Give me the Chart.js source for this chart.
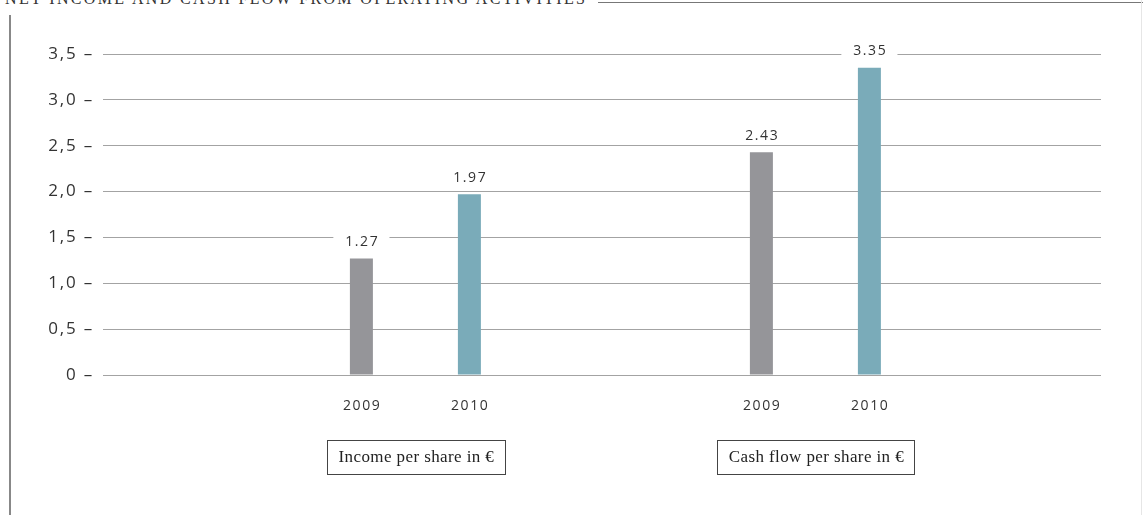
<!DOCTYPE html>
<html>
<head>
<meta charset="utf-8">
<script src="https://cdn.jsdelivr.net/npm/chart.js@4/dist/chart.umd.min.js"></script>
<style>
  html, body { margin: 0; padding: 0; background: #fff; }
  #wrap { position: relative; width: 1143px; height: 515px; overflow: hidden; }
  #title {
    position: absolute; left: 5px; top: -9px;
    font-family: "Liberation Serif", serif; font-size: 16px; line-height: 16px;
    letter-spacing: 2.35px; color: #333; white-space: nowrap;
  }
  #topLine { position: absolute; left: 598px; top: 2px; width: 545px; border-top: 1px solid #777; }
  #leftLine { position: absolute; left: 9px; top: 15px; height: 500px; border-left: 2px solid #888; }
  #rightLine { position: absolute; left: 1141px; top: 0; height: 515px; border-left: 1px solid #e6e6e6; }
  #chartBox { position: absolute; left: 0; top: 0; width: 1143px; height: 515px; }
</style>
</head>
<body>
<div id="wrap">
  <div id="title">NET INCOME AND CASH FLOW FROM OPERATING ACTIVITIES</div>
  <div id="topLine"></div>
  <div id="leftLine"></div>
  <div id="rightLine"></div>
  <div id="chartBox"><canvas id="epsChart"></canvas></div>
</div>
<script>
// Income and cash flow per share, 2009 vs 2010

const groupLabels = ['Income per share in €', 'Cash flow per share in €'];
const yearLabels = ['2009', '2010'];
const values2009 = [1.27, 2.43];
const values2010 = [1.97, 3.35];
const yTickLabels = ['0', '0,5', '1,0', '1,5', '2,0', '2,5', '3,0', '3,5'];

const barColors = ['#959599', '#7aabb9'];

// Draws value labels, year labels and the boxed group names
const annotatePlugin = {
    id: 'annotate',
    afterDatasetsDraw(chart) {
        const ctx = chart.ctx;
        ctx.save();

        chart.data.datasets.forEach((ds, di) => {
            const meta = chart.getDatasetMeta(di);
            meta.data.forEach((bar, i) => {
                // value above the bar, on a white patch over the grid
                ctx.font = '14px "Open Sans"';
                ctx.letterSpacing = '1.6px';
                const txt = ds.data[i].y.toFixed(2);
                const w = ctx.measureText(txt).width;
                const cy = bar.y - 16.5;
                ctx.fillStyle = '#fff';
                ctx.fillRect(bar.x - w / 2 - 11, cy - 9, w + 22, 18);
                ctx.fillStyle = '#333';
                ctx.textAlign = 'center';
                ctx.textBaseline = 'middle';
                ctx.fillText(txt, bar.x + 0.8, cy);

                // year under the bar
                ctx.font = '14px "Open Sans"';
                ctx.fillText(yearLabels[di], bar.x + 0.8, bar.base + 32);
            });
        });

        // group name boxes
        const xScale = chart.scales.x;
        const base = chart.scales.y.getPixelForValue(0);
        ctx.letterSpacing = '0.4px';
        ctx.font = '17px "Liberation Serif"';
        groupLabels.forEach((label, i) => {
            const cx = xScale.getPixelForValue(i);
            const w = ctx.measureText(label).width + 22;
            const top = base + 65;
            ctx.fillStyle = '#fff';
            ctx.fillRect(cx - w / 2, top, w, 34);
            ctx.strokeStyle = '#444';
            ctx.lineWidth = 1;
            ctx.strokeRect(Math.round(cx - w / 2) + 0.5, top + 0.5, Math.round(w), 34);
            ctx.fillStyle = '#222';
            ctx.textAlign = 'center';
            ctx.textBaseline = 'middle';
            ctx.fillText(label, cx + 1, top + 18);
        });

        ctx.restore();
    }
};

// Letter spacing for the axis tick labels
const spacingPlugin = {
    id: 'spacing',
    beforeDraw(chart) {
        chart.ctx.letterSpacing = '1.8px';
    }
};

function buildDataset(values, idx) {
    return {
        label: yearLabels[idx],
        data: values.map((v, i) => ({ x: i, y: v })),
        backgroundColor: barColors[idx],
        borderWidth: 0,
        categoryPercentage: 0.54,
        barPercentage: 0.213
    };
}

const ctx = document.getElementById('epsChart').getContext('2d');
const epsChart = new Chart(ctx, {
    type: 'bar',
    data: {
        datasets: [buildDataset(values2009, 0), buildDataset(values2010, 1)]
    },
    options: {
        responsive: true,
        maintainAspectRatio: false,
        animation: false,
        layout: {
            padding: { left: 0, right: 42, top: 54, bottom: 140 }
        },
        plugins: {
            legend: { display: false },
            tooltip: { enabled: false }
        },
        scales: {
            x: {
                type: 'linear',
                offset: false,
                min: -0.781,
                max: 1.714,
                grid: { display: false, drawTicks: false, offset: false },
                border: { display: false },
                ticks: { display: false },
                afterBuildTicks: axis => {
                    axis.ticks = groupLabels.map((_, i) => ({ value: i }));
                },
                afterFit: axis => { axis.height = 0; }
            },
            y: {
                min: 0,
                max: 3.5,
                ticks: {
                    stepSize: 0.5,
                    padding: 9,
                    color: '#333',
                    font: { family: 'Open Sans', size: 17 },
                    callback: (value, index) => yTickLabels[index] + ' –'
                },
                grid: { color: '#a3a3a3', lineWidth: 1, drawTicks: false },
                border: { display: false },
                afterFit: axis => { axis.width = 103; }
            }
        }
    },
    plugins: [spacingPlugin, annotatePlugin]
});
</script>
</body>
</html>
